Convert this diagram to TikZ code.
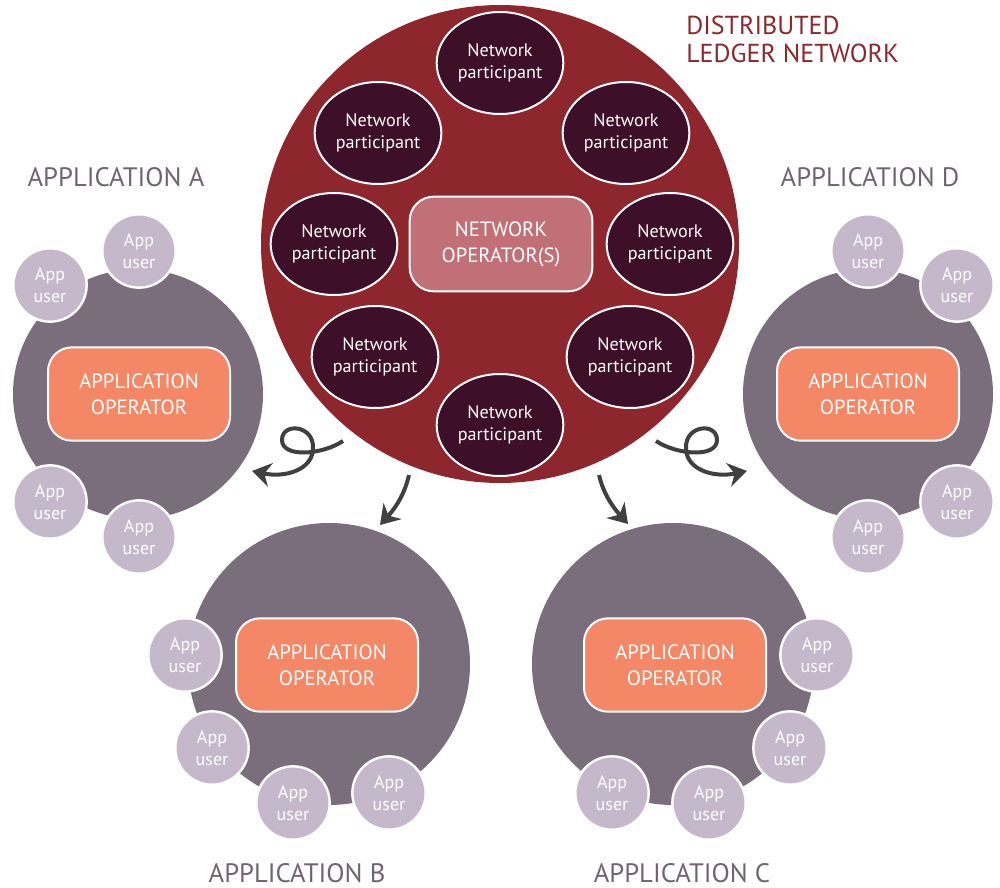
\documentclass[tikz,border=0pt]{standalone}
\usepackage{fontspec}
\setmainfont{PT Sans}
\usetikzlibrary{shapes.geometric,arrows.meta}

\definecolor{ledgerred}{RGB}{142,39,45}
\definecolor{partdark}{RGB}{61,15,40}
\definecolor{netoppink}{RGB}{192,112,118}
\definecolor{appgrey}{RGB}{123,110,124}
\definecolor{appopsalmon}{RGB}{243,135,102}
\definecolor{appuserlilac}{RGB}{197,184,202}
\definecolor{labelgrey}{RGB}{111,100,112}
\definecolor{arrowgrey}{RGB}{64,64,64}

\begin{document}
\begin{tikzpicture}[x=0.75pt,y=0.75pt,yscale=-1,xscale=1,
  ledgercircle/.style={circle,fill=ledgerred,minimum size=358.5pt,inner sep=0pt},
  participant/.style={ellipse,fill=partdark,draw=white,line width=1.5pt,minimum width=95pt,minimum height=76.5pt,inner sep=0pt,align=center,text=white,font=\fontsize{13.6}{17}\selectfont},
  netopbox/.style={rectangle,rounded corners=18pt,fill=netoppink,draw=white,line width=1.5pt,minimum width=137pt,minimum height=71pt,align=center,text=white,font=\fontsize{15.5}{19.5}\selectfont},
  appsmall/.style={circle,fill=appgrey,minimum size=187.5pt,inner sep=0pt},
  appbig/.style={circle,fill=appgrey,minimum size=211.5pt,inner sep=0pt},
  appopbox/.style={rectangle,rounded corners=18pt,fill=appopsalmon,draw=white,line width=1.5pt,minimum width=136.5pt,minimum height=70pt,align=center,text=white,font=\fontsize{15.5}{19.5}\selectfont},
  appuser/.style={circle,fill=appuserlilac,draw=white,line width=1.8pt,minimum size=55pt,inner sep=0pt,align=center,text=white,font=\fontsize{13.5}{16.5}\selectfont},
  applabel/.style={text=labelgrey,font=\fontsize{20}{23}\selectfont,inner sep=0.75pt},
  flow/.style={draw=arrowgrey,line width=3pt,-{Stealth[length=14pt,width=18pt,inset=4.5pt]}}
]
\useasboundingbox (0,0) rectangle (1000,888);

%Shape: Ledger circle
\node [ledgercircle] (ledger) at (500,244) {};
% Text Node
\node [anchor=west,align=left,text=ledgerred,font=\fontsize{19.5}{21}\selectfont,inner sep=0.75pt] (ledgertitle) at (685,39) {DISTRIBUTED\\LEDGER NETWORK};

%Shape: Network operator
\node [netopbox] (netop) at (501,244) {NETWORK\\OPERATOR(S)};

%Shape: Ellipses
\node [participant] (np1) at (500,63) {Network\\participant};
\node [participant] (np2) at (378,133) {Network\\participant};
\node [participant] (np3) at (626,133) {Network\\participant};
\node [participant] (np4) at (334,244) {Network\\participant};
\node [participant] (np5) at (670,244) {Network\\participant};
\node [participant] (np6) at (375,357) {Network\\participant};
\node [participant] (np7) at (630,357) {Network\\participant};
\node [participant] (np8) at (500,425) {Network\\participant};

%Application A
\node [appsmall] (appA) at (138,394) {};
\node [appopbox] (opA) at (139,394) {APPLICATION\\OPERATOR};
\node [appuser] (uA1) at (50,285) {App\\user};
\node [appuser] (uA2) at (139,251) {App\\user};
\node [appuser] (uA3) at (50,502) {App\\user};
\node [appuser] (uA4) at (139,537) {App\\user};
% Text Node
\node [applabel] (labA) at (116,177) {APPLICATION A};

%Application D
\node [appsmall] (appD) at (868,394) {};
\node [appopbox] (opD) at (868,394) {APPLICATION\\OPERATOR};
\node [appuser] (uD1) at (868,251) {App\\user};
\node [appuser] (uD2) at (957,285) {App\\user};
\node [appuser] (uD3) at (957,502) {App\\user};
\node [appuser] (uD4) at (868,537) {App\\user};
% Text Node
\node [applabel] (labD) at (870,177) {APPLICATION D};

%Application B
\node [appbig] (appB) at (329,664) {};
\node [appopbox] (opB) at (327,665) {APPLICATION\\OPERATOR};
\node [appuser] (uB1) at (185,655) {App\\user};
\node [appuser] (uB2) at (212,748) {App\\user};
\node [appuser] (uB3) at (293,803) {App\\user};
\node [appuser] (uB4) at (389,793) {App\\user};
% Text Node
\node [applabel] (labB) at (297,873) {APPLICATION B};

%Application C
\node [appbig] (appC) at (673,664) {};
\node [appopbox] (opC) at (675,665) {APPLICATION\\OPERATOR};
\node [appuser] (uC1) at (817,655) {App\\user};
\node [appuser] (uC2) at (790,748) {App\\user};
\node [appuser] (uC3) at (709,803) {App\\user};
\node [appuser] (uC4) at (612,793) {App\\user};
% Text Node
\node [applabel] (labC) at (682,873) {APPLICATION C};

%Curve Lines
\coordinate (flowAs) at (343,441);
\coordinate (flowAl) at (282,440);
\coordinate (flowAx) at (313,448);
\coordinate (flowAe) at (252,471);
\draw [flow] (flowAs) .. controls (322,455) and (282,458) .. (flowAl) .. controls (282,422) and (314,425) .. (flowAx) .. controls (313,470) and (285,478) .. (flowAe);

\coordinate (flowDs) at (656,441);
\coordinate (flowDr) at (717,440);
\coordinate (flowDx) at (686,448);
\coordinate (flowDe) at (747,471);
\draw [flow] (flowDs) .. controls (677,455) and (717,458) .. (flowDr) .. controls (717,422) and (685,425) .. (flowDx) .. controls (686,470) and (714,478) .. (flowDe);

\coordinate (flowBs) at (409,475);
\coordinate (flowBe) at (380,525);
\draw [flow] (flowBs) .. controls (405,492) and (398,505) .. (flowBe);

\coordinate (flowCs) at (599,475);
\coordinate (flowCe) at (628,524);
\draw [flow] (flowCs) .. controls (603,492) and (611,505) .. (flowCe);

\end{tikzpicture}
\end{document}
